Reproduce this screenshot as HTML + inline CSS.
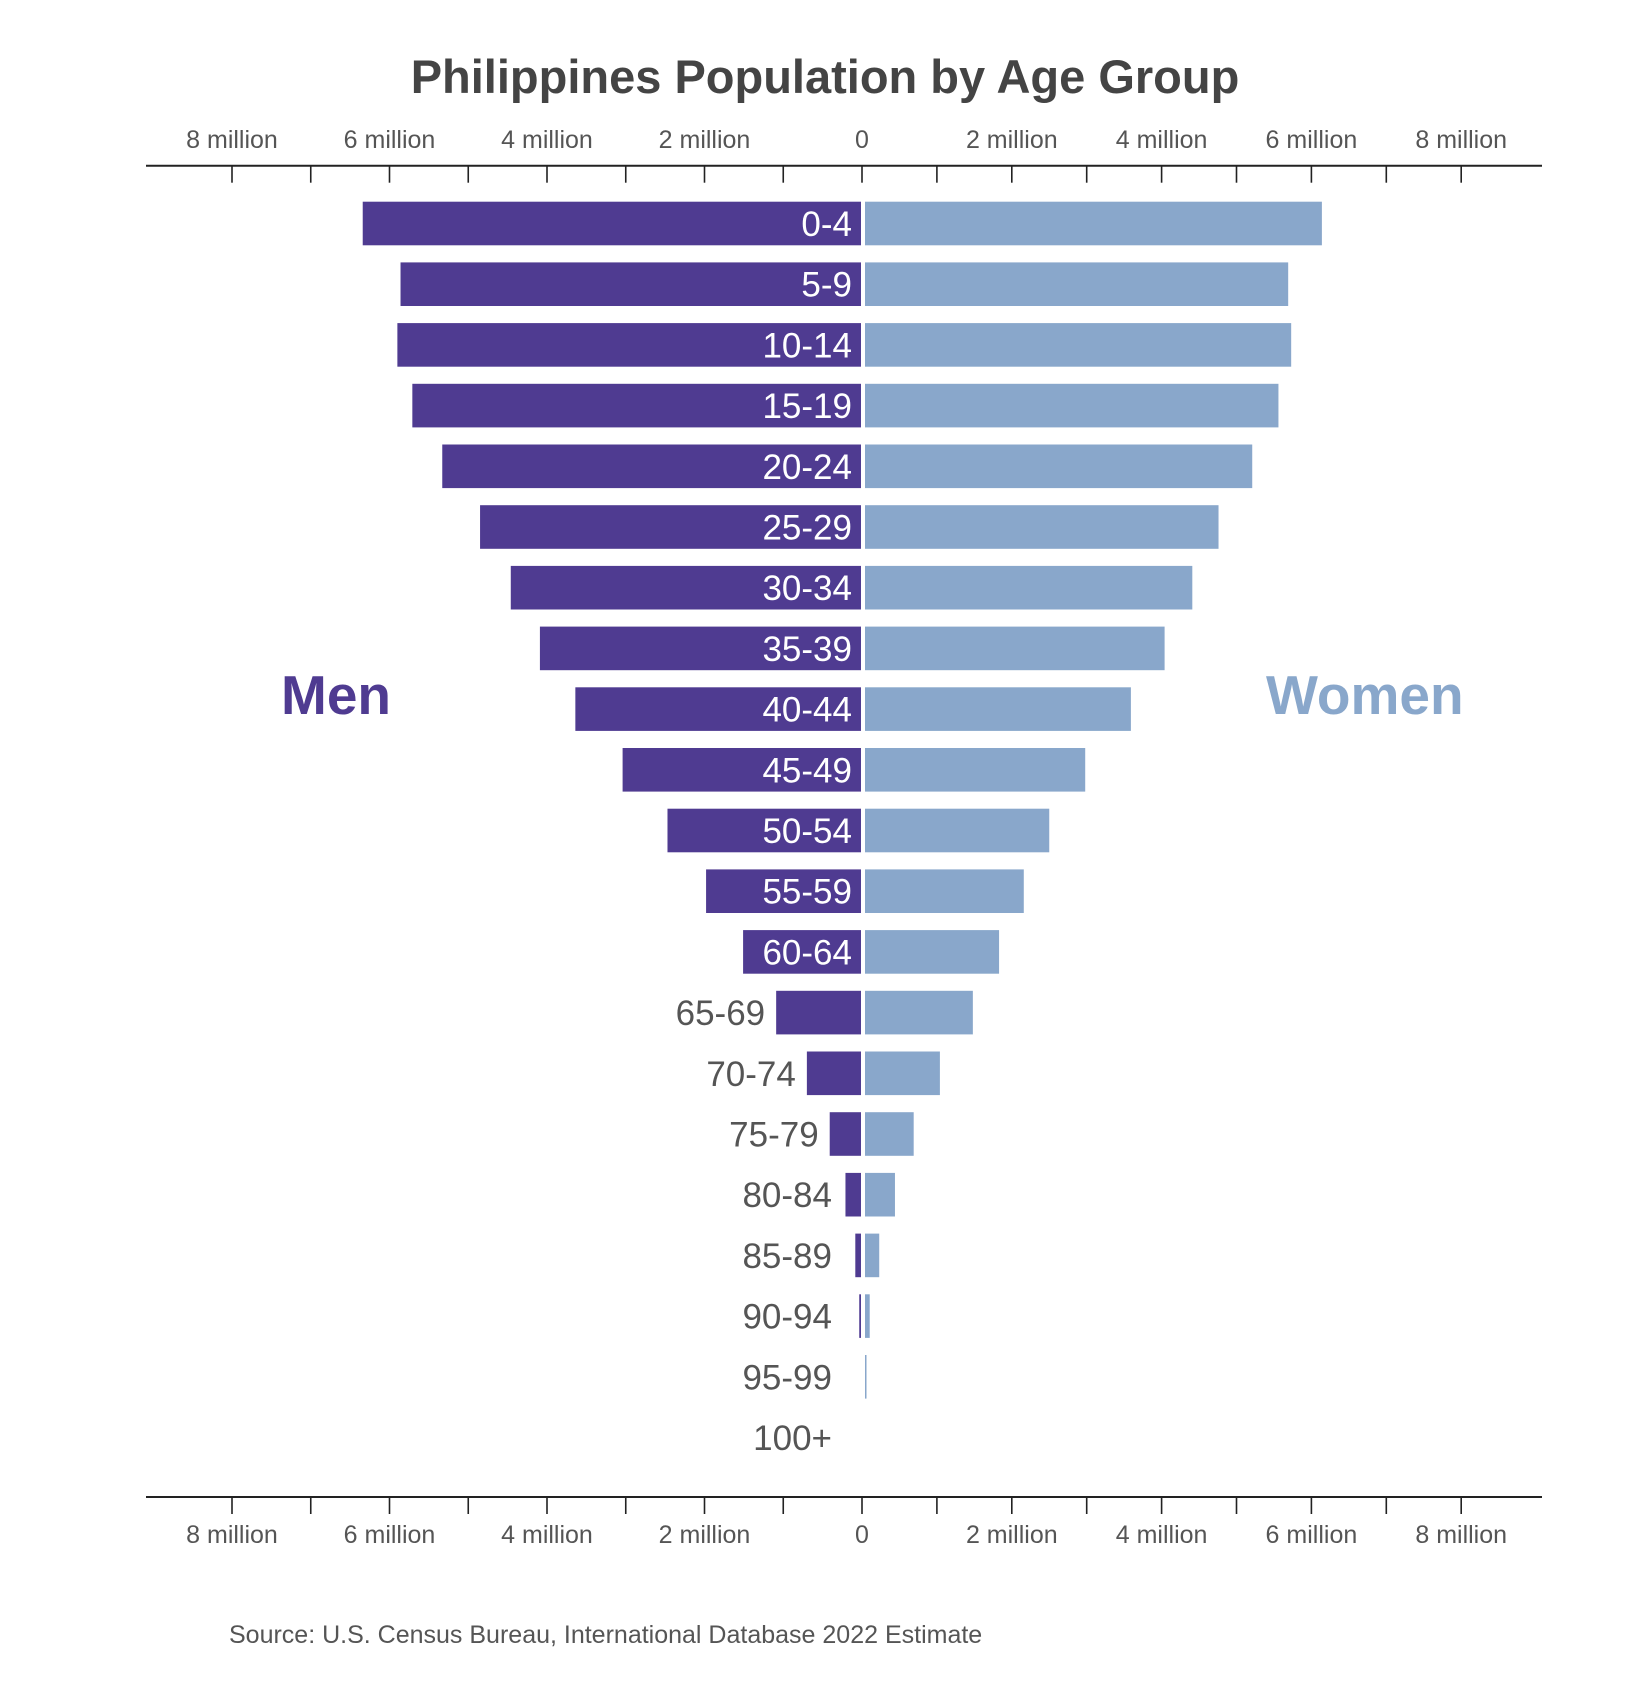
<!DOCTYPE html>
<html><head><meta charset="utf-8"><style>
html,body{margin:0;padding:0;background:#fff;}
svg{display:block;font-family:"Liberation Sans",Arial,sans-serif;}
</style></head><body>
<svg id="chart" width="1651" height="1706" viewBox="0 0 1651 1706" xmlns="http://www.w3.org/2000/svg">
<text x="825" y="93" text-anchor="middle" font-size="47" font-weight="bold" fill="#444">Philippines Population by Age Group</text>
<text x="281" y="714" font-size="55" font-weight="bold" fill="#4f3b91">Men</text>
<text x="1266" y="714" font-size="55" font-weight="bold" fill="#89a7cb">Women</text>
<text x="229" y="1643" font-size="25" fill="#555">Source: U.S. Census Bureau, International Database 2022 Estimate</text>
<g id="axes"></g>
<g id="bars"></g>
</svg>
<script>
const ageGroups = ["0-4","5-9","10-14","15-19","20-24","25-29","30-34","35-39","40-44","45-49","50-54","55-59","60-64","65-69","70-74","75-79","80-84","85-89","90-94","95-99","100+"];
const menValues = [6.34,5.86,5.90,5.71,5.33,4.85,4.46,4.09,3.64,3.04,2.47,1.98,1.51,1.09,0.70,0.41,0.21,0.085,0.035,0.01,0];
const womenValues = [6.10,5.65,5.69,5.52,5.17,4.72,4.37,4.00,3.55,2.94,2.46,2.12,1.79,1.44,1.00,0.65,0.40,0.19,0.063,0.02,0];
const tickValues = [0,1,2,3,4,5,6,7,8];
const tickLabels = ["0","","2 million","","4 million","","6 million","","8 million"];

const NS = "http://www.w3.org/2000/svg";
const zeroX = 862, womenZero = 865;
const leftScale = 78.75, rightScale = 74.9;
function xMen(v){ return zeroX - v*leftScale; }
function xWomen(v){ return womenZero + v*rightScale; }
function xWomenTick(v){ return zeroX + v*rightScale; }
const rowTop = 201.7, rowPitch = 60.7, barH = 43.6;
function yRow(i){ return rowTop + i*rowPitch; }

function mk(tag, attrs, parent){
  const el = document.createElementNS(NS, tag);
  for (const k in attrs) el.setAttribute(k, attrs[k]);
  parent.appendChild(el);
  return el;
}
const axes = document.getElementById('axes');
const bars = document.getElementById('bars');

[{y:165.7, ly:148, dir:1, nm:'top'},{y:1497, ly:1543, dir:1, nm:'bottom'}].forEach(a=>{
  const line = mk('line',{x1:146,x2:1542,y1:a.y,y2:a.y,stroke:'#222','stroke-width':2},axes);
  
  
  tickValues.forEach((v,i)=>{
    const xs = v===0 ? [zeroX] : [xMen(v), xWomenTick(v)];
    xs.forEach((x,j)=>{
      const t = mk('line',{x1:x,x2:x,y1:a.y,y2:a.y+17,stroke:'#222','stroke-width':1.6},axes);
      
      
      if (tickLabels[i]) {
        const tx = mk('text',{x:x,y:a.ly,'text-anchor':'middle','font-size':25,fill:'#555'},axes);
        tx.textContent = tickLabels[i];
        
        
      }
    });
  });
});

ageGroups.forEach((g,i)=>{
  const y = yRow(i);
  const m = menValues[i], w = womenValues[i];
  if (m > 0) {
    const x0 = xMen(m);
    const r = mk('rect',{x:x0,y:y,width:zeroX-1-x0,height:barH,fill:'#4f3b91'},bars);
    if (m < 0.02) r.setAttribute('fill','#9d8fd0');
    
    
  }
  if (w > 0) {
    const r = mk('rect',{x:womenZero,y:y,width:Math.max(xWomen(w)-womenZero,1),height:barH,fill:'#89a7cb'},bars);
    
    
  }
  const x0 = xMen(m);
  const inside = (zeroX - x0) > 110;
  const lx = inside ? 852 : Math.min(x0 - 11, 832);
  const t = mk('text',{x:lx,y:y+barH/2+12.5,'text-anchor':'end','font-size':35,fill: inside ? '#fff' : '#555'},bars);
  t.textContent = g;
  
  
});
</script>
</body></html>
